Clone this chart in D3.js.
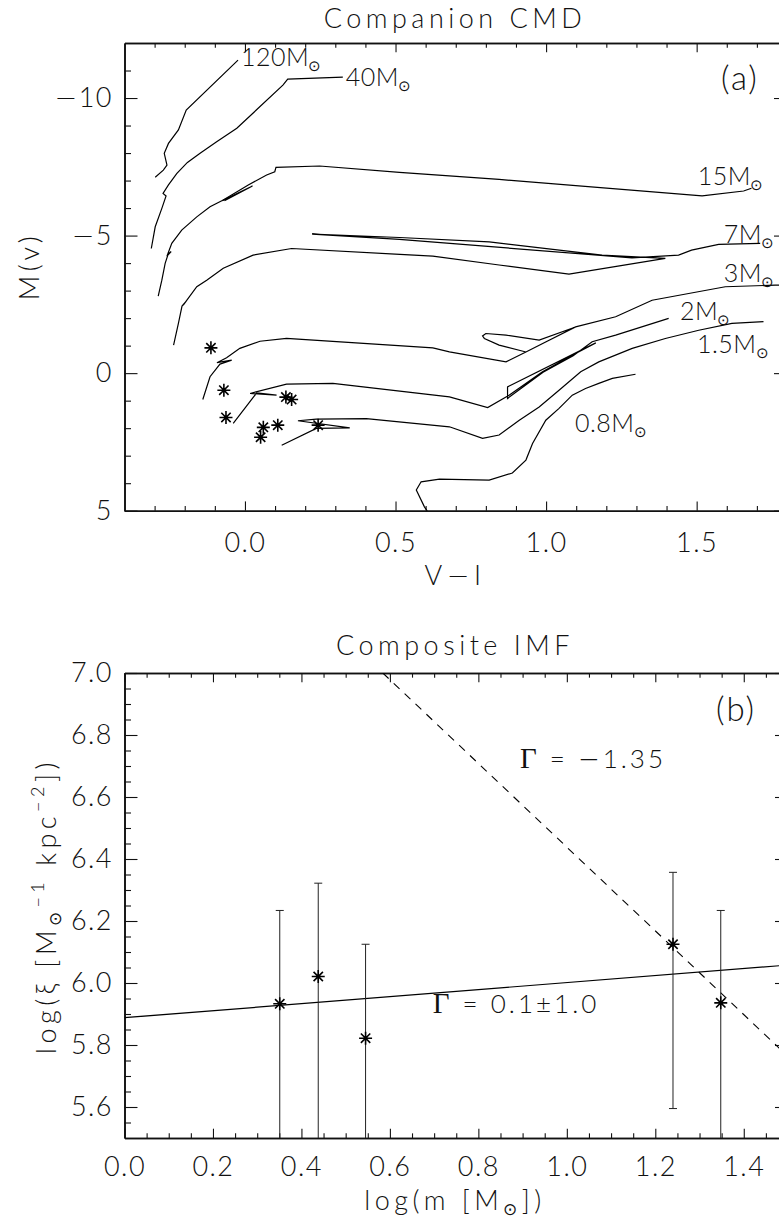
<!DOCTYPE html>
<html>
<head>
<meta charset="utf-8">
<script src="https://cdn.jsdelivr.net/npm/d3@7"></script>
<style>
  body { margin: 0; background: #fff; }
  svg { display: block; background: #fff; }
  text { font-family: Lato, "DejaVu Sans", sans-serif; font-weight: 300; fill: #111; }
  .axis text { font-size: 27px; letter-spacing: 1.5px; }
  .axis path, .axis line { stroke: #111; }
  .axis path { stroke-width: 1.6; }
  .axis line { stroke-width: 1.1; }
  .title { font-size: 27px; letter-spacing: 4.5px; }
  .lbl { font-size: 25px; letter-spacing: 0.5px; }
  .gam { font-size: 26px; letter-spacing: 3px; }
  .track { fill: none; stroke: #000; stroke-width: 1.2; }
  .serif { font-family: "Liberation Serif", "DejaVu Serif", serif; font-weight: 400; }
  .minus { font-family: "DejaVu Sans", sans-serif; font-weight: 200; }
</style>
</head>
<body>
<svg id="chart" width="779" height="1224"></svg>
<script>
// ---- panel (a): companion CMD ----
const viTicks = [0.0, 0.5, 1.0, 1.5];
const mvTicks = [-10, -5, 0, 5];

// evolutionary tracks, [V-I, M(V)], from the ZAMS upward
const track120 = [[-0.298, -7.12], [-0.271, -7.38], [-0.259, -7.56], [-0.268, -7.99], [-0.254, -8.35],
  [-0.221, -8.84], [-0.195, -9.56], [-0.023, -11.38]];
const track40 = [[-0.311, -4.53], [-0.298, -5.32], [-0.276, -5.99], [-0.262, -6.44], [-0.272, -6.53],
  [-0.254, -6.84], [-0.226, -7.26], [-0.191, -7.66], [-0.149, -7.99], [-0.094, -8.41], [-0.027, -8.90],
  [0.126, -10.47], [0.142, -10.69], [0.325, -10.76]];
const track15 = [[-0.288, -2.80], [-0.276, -3.38], [-0.265, -3.99], [-0.256, -4.29], [-0.245, -4.42],
  [-0.257, -4.31], [-0.243, -4.72], [-0.210, -5.20], [-0.160, -5.68], [-0.116, -6.05], [-0.072, -6.29],
  [0.011, -6.84], [0.072, -7.20], [0.099, -7.32], [0.103, -7.48], [0.248, -7.53], [0.513, -7.30],
  [0.844, -7.04], [1.518, -6.44], [1.656, -6.62], [1.682, -6.72]];
const track15loop = [[-0.075, -6.27], [0.025, -6.80], [-0.068, -6.27]];
const track7 = [[-0.237, -1.02], [-0.221, -1.81], [-0.209, -2.44], [-0.195, -2.62], [-0.205, -2.47],
  [-0.160, -3.14], [-0.127, -3.38], [-0.072, -3.81], [0.027, -4.29], [0.155, -4.53], [0.624, -4.25],
  [0.844, -3.93], [1.076, -3.60], [1.396, -4.17], [1.186, -4.29], [0.811, -4.77], [0.513, -4.93],
  [0.223, -5.05], [0.513, -4.86], [1.285, -4.19], [1.440, -4.29], [1.483, -4.47], [1.573, -4.68],
  [1.711, -4.72]];
const track3 = [[-0.140, 0.96], [-0.116, 0.13], [-0.083, -0.33], [-0.044, -0.47], [-0.093, -0.38],
  [-0.061, -0.56], [-0.017, -0.90], [0.050, -1.16], [0.138, -1.26], [0.624, -0.92], [0.679, -0.77],
  [0.867, -0.41], [0.933, -0.77], [1.043, -1.38], [1.093, -1.66], [0.977, -1.20], [0.867, -1.38],
  [0.800, -1.44], [0.789, -1.35], [0.795, -1.26], [0.844, -1.02], [0.933, -0.77], [1.098, -1.68],
  [1.231, -2.05], [1.352, -2.65], [1.595, -3.14], [1.761, -3.20], [1.850, -3.22]];
const track2 = [[-0.039, 1.83], [0.039, 0.72], [0.105, 0.80], [0.017, 0.74], [0.138, 0.40],
  [0.292, 0.37], [0.679, 0.86], [0.806, 1.25], [0.877, 0.80], [0.988, -0.05], [1.087, -0.65],
  [1.165, -1.10], [0.872, 0.50], [0.872, 0.92], [0.990, -0.03], [1.090, -0.63], [1.153, -1.14],
  [1.231, -1.38], [1.407, -1.99]];
const track1p5 = [[0.122, 2.62], [0.237, 2.01], [0.348, 1.99], [0.176, 1.73], [0.237, 1.67],
  [0.403, 1.65], [0.679, 1.95], [0.789, 2.37], [0.844, 2.25], [0.911, 1.71], [0.977, 1.23],
  [1.043, 0.62], [1.115, -0.05], [1.175, -0.41], [1.286, -0.90], [1.396, -1.26], [1.507, -1.56],
  [1.617, -1.81], [1.722, -1.87]];
const track08 = [[0.616, 5.27], [0.607, 5.04], [0.596, 4.86], [0.569, 4.25], [0.585, 3.95],
  [0.646, 3.85], [0.811, 3.89], [0.888, 3.63], [0.933, 3.16], [0.955, 2.56], [0.999, 1.71],
  [1.043, 1.28], [1.087, 0.80], [1.131, 0.56], [1.175, 0.37], [1.220, 0.19], [1.297, 0.04]];

const tracks = [track120, track40, track15, track15loop, track7, track3, track2, track1p5, track08];

// mass labels: text start and baseline in data units
const trackMasses = ["120", "40", "15", "7", "3", "2", "1.5", "0.8"];
const labelVI = [-0.013, 0.335, 1.504, 1.590, 1.590, 1.445, 1.501, 1.096];
const labelMV = [-11.15, -10.42, -6.85, -4.74, -3.33, -1.94, -0.75, 2.13];

// companions
const starVI = [-0.113, -0.070, -0.063, 0.061, 0.052, 0.109, 0.136, 0.155, 0.243];
const starMV = [-0.92, 0.62, 1.61, 1.97, 2.33, 1.89, 0.87, 0.96, 1.89];

// ---- panel (b): composite IMF ----
const logmTicks = [0.0, 0.2, 0.4, 0.6, 0.8, 1.0, 1.2, 1.4];
const logxiTicks = [5.6, 5.8, 6.0, 6.2, 6.4, 6.6, 6.8, 7.0];

const imfLogM = [0.351, 0.438, 0.545, 1.240, 1.348];
const imfLogXi = [5.933, 6.021, 5.822, 6.125, 5.936];
const imfHi = [6.234, 6.322, 6.125, 6.357, 6.234];
const imfLo = [null, null, null, 5.595, null];   // null = runs off the bottom

const fitFlat = [[0, 5.888], [1.5, 6.058]];
const fitSalpeter = [[0.584, 7.0], [1.5, 5.763]];

// ------------------------------------------------------------
const svg = d3.select("#chart");

const xA = d3.scaleLinear().domain([-0.4, 1.8]).range([124.5, 787]);
const yA = d3.scaleLinear().domain([-12, 5]).range([43, 510.7]);
const xB = d3.scaleLinear().domain([0, 1.5]).range([124.5, 788]);
const yB = d3.scaleLinear().domain([5.5, 7.0]).range([1138, 673]);

const minus = s => String(s).replace("-", "\u2212");

// put a long minus sign (own font) in front of a text
function withMinus(sel, rest) {
  sel.append("tspan").attr("class", "minus").text("\u2212");
  sel.append("tspan").text(rest);
}

// box with ticks on all four sides, IDL style
function frame(x, y, top, bottom, xMaj, xMin, yMaj, yMin, xFmt, yFmt, xPad) {
  const left = x.range()[0], right = x.range()[1];
  const xl = 9.3, yl = 13;
  const add = (axis, tr) => svg.append("g").attr("class", "axis").attr("transform", tr).call(axis);
  add(d3.axisBottom(x).tickValues(xMaj).tickSizeInner(-xl).tickSizeOuter(0).tickPadding(xPad).tickFormat(xFmt), `translate(0,${bottom})`);
  add(d3.axisBottom(x).tickValues(xMin).tickSizeInner(-xl / 2).tickSizeOuter(0).tickFormat(""), `translate(0,${bottom})`);
  add(d3.axisTop(x).tickValues(xMaj).tickSizeInner(-xl).tickSizeOuter(0).tickFormat(""), `translate(0,${top})`);
  add(d3.axisTop(x).tickValues(xMin).tickSizeInner(-xl / 2).tickSizeOuter(0).tickFormat(""), `translate(0,${top})`);
  add(d3.axisLeft(y).tickValues(yMaj).tickSizeInner(-yl).tickSizeOuter(0).tickPadding(11.5).tickFormat(yFmt), `translate(${left},0)`);
  add(d3.axisLeft(y).tickValues(yMin).tickSizeInner(-yl / 2).tickSizeOuter(0).tickFormat(""), `translate(${left},0)`);
  add(d3.axisRight(y).tickValues(yMaj).tickSizeInner(-yl).tickSizeOuter(0).tickFormat(""), `translate(${right},0)`);
  add(d3.axisRight(y).tickValues(yMin).tickSizeInner(-yl / 2).tickSizeOuter(0).tickFormat(""), `translate(${right},0)`);
}

function asterisk(g, cx, cy, s) {
  const d = s * 0.72;
  g.append("path")
    .attr("d", `M${cx - s},${cy}L${cx + s},${cy}M${cx},${cy - s}L${cx},${cy + s}` +
      `M${cx - d},${cy - d}L${cx + d},${cy + d}M${cx - d},${cy + d}L${cx + d},${cy - d}`)
    .attr("stroke", "#000").attr("stroke-width", 1.6).attr("fill", "none");
}

// ---------------- panel (a) ----------------
const defs = svg.append("defs");
defs.append("clipPath").attr("id", "clipA").append("rect")
  .attr("x", xA.range()[0]).attr("y", yA.range()[0])
  .attr("width", xA.range()[1] - xA.range()[0]).attr("height", yA.range()[1] - yA.range()[0]);
defs.append("clipPath").attr("id", "clipB").append("rect")
  .attr("x", xB.range()[0]).attr("y", yB.range()[1])
  .attr("width", xB.range()[1] - xB.range()[0]).attr("height", yB.range()[0] - yB.range()[1]);

const minorVI = d3.range(-0.3, 1.75, 0.1).filter(v => !viTicks.some(t => Math.abs(t - v) < 1e-6));
const minorMV = d3.range(-11, 5, 1).filter(v => !mvTicks.includes(v));
frame(xA, yA, 43, 510.7, viTicks, minorVI, mvTicks, minorMV,
  d => minus(d3.format(".1f")(d)), d => minus(d), 22);

// long minus signs on the tick labels
svg.selectAll(".axis text").each(function () {
  const t = d3.select(this), s = t.text();
  if (s.startsWith("\u2212")) { t.text(null); withMinus(t, s.slice(1)); }
});

const gA = svg.append("g").attr("clip-path", "url(#clipA)");
const lineA = d3.line().x(d => xA(d[0])).y(d => yA(d[1]));
gA.selectAll("path.track").data(tracks).join("path")
  .attr("class", "track").attr("d", lineA);

starVI.forEach((v, i) => asterisk(gA, xA(v), yA(starMV[i]), 6.5));

trackMasses.forEach((m, i) => {
  const t = svg.append("text").attr("class", "lbl")
    .attr("x", xA(labelVI[i])).attr("y", yA(labelMV[i]));
  t.append("tspan").text(m + "M");
  t.append("tspan").attr("font-size", 15).attr("dx", -1).attr("dy", 5).text("\u2299");
});

svg.append("text").attr("class", "title").attr("text-anchor", "middle")
  .attr("x", 455).attr("y", 28).text("Companion CMD");
const vi = svg.append("text").attr("class", "title").attr("text-anchor", "middle")
  .attr("x", 455).attr("y", 585);
vi.append("tspan").text("V");
withMinus(vi, "I");
svg.append("text").attr("class", "title").attr("text-anchor", "middle")
  .attr("transform", "translate(39,266) rotate(-90)").text("M(v)");
svg.append("text").attr("font-size", 33).attr("letter-spacing", 2)
  .attr("x", xA(1.581)).attr("y", yA(-10.29)).text("(a)");

// ---------------- panel (b) ----------------
const minorM = d3.range(0.05, 1.5, 0.05).filter(v => !logmTicks.some(t => Math.abs(t - v) < 1e-6));
const minorXi = d3.range(5.55, 7.0, 0.05).filter(v => !logxiTicks.some(t => Math.abs(t - v) < 1e-6));
frame(xB, yB, 673, 1138, logmTicks, minorM, logxiTicks, minorXi,
  d3.format(".1f"), d3.format(".1f"), 18.8);

const gB = svg.append("g").attr("clip-path", "url(#clipB)");
const lineB = d3.line().x(d => xB(d[0])).y(d => yB(d[1]));
gB.append("path").attr("d", lineB(fitFlat)).attr("fill", "none")
  .attr("stroke", "#000").attr("stroke-width", 1.2);
gB.append("path").attr("d", lineB(fitSalpeter)).attr("fill", "none")
  .attr("stroke", "#000").attr("stroke-width", 1.1).attr("stroke-dasharray", "8,7");

const yMin = yB.domain()[0];
imfLogM.forEach((m, i) => {
  const cx = xB(m);
  const lo = imfLo[i] === null ? yMin - 0.05 : imfLo[i];
  gB.append("line").attr("x1", cx).attr("x2", cx)
    .attr("y1", yB(lo)).attr("y2", yB(imfHi[i])).attr("stroke", "#222").attr("stroke-width", 1);
  gB.append("line").attr("x1", cx - 4).attr("x2", cx + 4)
    .attr("y1", yB(imfHi[i])).attr("y2", yB(imfHi[i])).attr("stroke", "#222").attr("stroke-width", 1);
  if (imfLo[i] !== null) {
    gB.append("line").attr("x1", cx - 4).attr("x2", cx + 4)
      .attr("y1", yB(lo)).attr("y2", yB(lo)).attr("stroke", "#222").attr("stroke-width", 1);
  }
  asterisk(gB, cx, yB(imfLogXi[i]), 6.5);
});

const g1 = svg.append("text").attr("class", "gam").attr("x", xB(0.894)).attr("y", yB(6.694));
g1.append("tspan").attr("class", "serif").attr("font-size", 29).text("\u0393");
g1.append("tspan").text(" = ");
withMinus(g1, "1.35");
const g2 = svg.append("text").attr("class", "gam").attr("x", xB(0.697)).attr("y", yB(5.903));
g2.append("tspan").attr("class", "serif").attr("font-size", 29).text("\u0393");
g2.append("tspan").text(" = 0.1\u00b11.0");

svg.append("text").attr("font-size", 33).attr("letter-spacing", 2)
  .attr("x", xB(1.337)).attr("y", yB(6.845)).text("(b)");

svg.append("text").attr("class", "title").attr("text-anchor", "middle")
  .attr("x", 455).attr("y", 655).text("Composite IMF");

const xt = svg.append("text").attr("class", "title").attr("text-anchor", "middle")
  .attr("x", 455).attr("y", 1210);
xt.append("tspan").text("log(m [M");
xt.append("tspan").attr("font-size", 17).attr("dy", 5).text("\u2299");
xt.append("tspan").attr("dy", -5).text("])");

const yt = svg.append("text").attr("class", "title").attr("text-anchor", "middle")
  .attr("transform", "translate(56,906) rotate(-90)");
yt.append("tspan").text("log(\u03be [M");
yt.append("tspan").attr("font-size", 17).attr("dy", 5).text("\u2299");
yt.append("tspan").attr("font-size", 18).attr("dy", -17).text("\u22121");
yt.append("tspan").attr("dy", 12).text(" kpc");
yt.append("tspan").attr("font-size", 18).attr("dy", -12).text("\u22122");
yt.append("tspan").attr("dy", 12).text("])");
</script>
</body>
</html>
